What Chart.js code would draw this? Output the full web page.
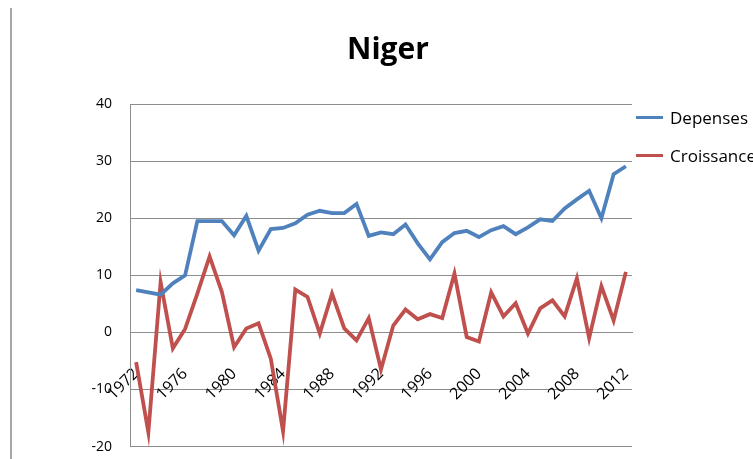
<!DOCTYPE html>
<html>
<head>
<meta charset="utf-8">
<script src="https://cdn.jsdelivr.net/npm/chart.js"></script>
<style>
  html, body { margin: 0; padding: 0; width: 753px; height: 459px; overflow: hidden; background: #fff; font-family: 'Open Sans', sans-serif; }
  #wrap { position: relative; width: 753px; height: 459px; overflow: hidden; }
  #edge { position: absolute; left: 10px; top: 8px; width: 2px; height: 451px; background: #a6a6a6; }
  #title { position: absolute; left: 288px; width: 200px; top: 27px; text-align: center; font-weight: bold; font-size: 30px; color: #000; }
  #legend { position: absolute; left: 636px; top: 105px; }
  .item { display: flex; align-items: center; height: 24px; margin-bottom: 14px; font-size: 17px; white-space: nowrap; color: #000; }
  .swatch { width: 27px; height: 3px; margin-right: 7px; }
  canvas { position: absolute; left: 0; top: 0; }
</style>
</head>
<body>
<div id="wrap">
  <canvas id="niger" width="753" height="473"></canvas>
  <div id="edge"></div>
  <div id="title">Niger</div>
  <div id="legend"></div>
</div>
<script>
const years = ['1972', '1973', '1974', '1975', '1976', '1977', '1978', '1979', '1980', '1981',
  '1982', '1983', '1984', '1985', '1986', '1987', '1988', '1989', '1990', '1991',
  '1992', '1993', '1994', '1995', '1996', '1997', '1998', '1999', '2000', '2001',
  '2002', '2003', '2004', '2005', '2006', '2007', '2008', '2009', '2010', '2011', '2012'];

const depenses = [7.4, 7.0, 6.6, 8.6, 10.0, 19.5, 19.5, 19.5, 17.0, 20.4,
  14.3, 18.1, 18.3, 19.1, 20.6, 21.3, 20.9, 20.9, 22.5, 16.9,
  17.5, 17.2, 18.9, 15.6, 12.8, 15.8, 17.4, 17.8, 16.7, 17.9,
  18.6, 17.2, 18.4, 19.8, 19.5, 21.7, 23.3, 24.8, 20.0, 27.7, 29.1];

const croissance = [-5.2, -17.5, 8.8, -2.8, 0.6, 6.8, 13.3, 7.1, -2.6, 0.7,
  1.6, -4.6, -17.3, 7.5, 6.2, -0.2, 6.8, 0.7, -1.4, 2.5,
  -6.5, 1.2, 4.0, 2.3, 3.2, 2.5, 10.3, -0.8, -1.6, 7.0,
  2.8, 5.1, -0.2, 4.2, 5.6, 2.8, 9.5, -1.0, 8.1, 2.1, 10.6];

const seriesNames = ['Depenses', 'Croissance'];
const seriesColors = ['#4F81BD', '#C0504D'];
const yMin = -20, yMax = 40, yStep = 10;
const labelEvery = 4;

const yFont = { family: "'Open Sans', sans-serif", size: 14 };
const xFont = { family: "'Open Sans', sans-serif", size: 16 };
const gridColor = '#8c8c8c';

// legend (html, right side, cut off by the window like the original)
const legendEl = document.getElementById('legend');
seriesNames.forEach((name, i) => {
  const row = document.createElement('div');
  row.className = 'item';
  const sw = document.createElement('span');
  sw.className = 'swatch';
  sw.style.background = seriesColors[i];
  row.appendChild(sw);
  row.appendChild(document.createTextNode(name));
  legendEl.appendChild(row);
});

const ctx = document.getElementById('niger');
new Chart(ctx, {
  type: 'line',
  data: {
    labels: years,
    datasets: [depenses, croissance].map((d, i) => ({
      label: seriesNames[i],
      data: d,
      borderColor: seriesColors[i],
      backgroundColor: seriesColors[i],
      borderWidth: 3.8,
      pointRadius: 0,
      tension: 0,
      fill: false
    }))
  },
  options: {
    responsive: false,
    animation: false,
    layout: { padding: { top: 104, right: 121, bottom: 0, left: 0 } },
    plugins: {
      legend: { display: false },
      title: { display: false },
      tooltip: { enabled: false }
    },
    scales: {
      x: {
        position: { y: 0 },
        offset: true,
        grid: { display: false, drawTicks: false },
        border: { color: gridColor },
        ticks: {
          autoSkip: false,
          minRotation: 45,
          maxRotation: 45,
          padding: 32,
          color: '#000',
          font: xFont,
          callback: function (v, i) {
            return i % labelEvery === 0 ? this.getLabelForValue(v) : '';
          }
        },
        afterFit: (s) => { s.height = 0; }
      },
      y: {
        min: yMin,
        max: yMax,
        ticks: { stepSize: yStep, padding: 18, color: '#000', font: yFont },
        grid: { color: gridColor, drawTicks: false },
        border: { color: gridColor },
        afterFit: (s) => { s.width = 130; }
      }
    }
  }
});
</script>
</body>
</html>
